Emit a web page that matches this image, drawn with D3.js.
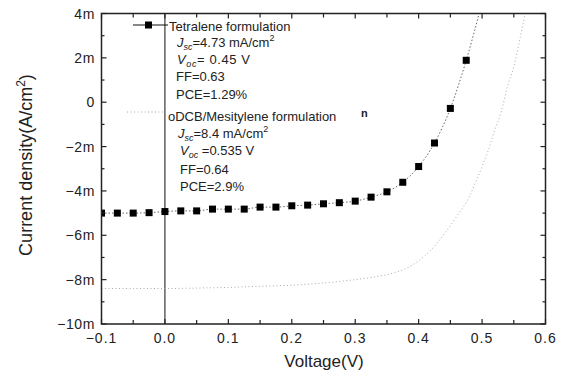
<!DOCTYPE html>
<html><head><meta charset="utf-8">
<script src="https://cdn.jsdelivr.net/npm/d3@7"></script>
<style>
body{margin:0;background:#fff;}
svg text{font-family:"Liberation Sans",Arial,sans-serif;}
</style></head>
<body><svg id="c" width="581" height="378"></svg>
<script>
// Tetralene formulation (V, mA/cm^2)
const tetraV = [-0.1,-0.075,-0.05,-0.025,0,0.025,0.05,0.075,0.1,0.125,0.15,0.175,0.2,0.225,0.25,0.275,0.3,0.325,0.35,0.375,0.4,0.425,0.45,0.475,0.5];
const tetraJ = [-5.0,-5.0,-5.0,-4.98,-4.93,-4.9,-4.9,-4.82,-4.82,-4.82,-4.73,-4.73,-4.67,-4.64,-4.58,-4.53,-4.46,-4.28,-4.04,-3.61,-2.9,-1.84,-0.28,1.89,4.5];
// oDCB/Mesitylene formulation (V, mA/cm^2)
const odcbV = [-0.1,-0.05,0,0.05,0.1,0.15,0.2,0.25,0.3,0.33,0.36,0.38,0.4,0.42,0.44,0.46,0.48,0.49,0.5,0.51,0.52,0.53,0.54,0.55,0.56,0.57];
const odcbJ = [-8.4,-8.4,-8.4,-8.38,-8.35,-8.3,-8.25,-8.15,-8.0,-7.88,-7.7,-7.5,-7.15,-6.65,-5.95,-5.15,-4.25,-3.6,-2.9,-2.15,-1.25,-0.45,0.7,1.6,2.9,4.3];
const xTicks = [-0.1,0.0,0.1,0.2,0.3,0.4,0.5,0.6];
const xTickLabels = ["\u22120.1","0.0","0.1","0.2","0.3","0.4","0.5","0.6"];
const yTicks = [4,2,0,-2,-4,-6,-8,-10];
const yTickLabels = ["4m","2m","0","\u22122m","\u22124m","\u22126m","\u22128m","\u221210m"];

const svg = d3.select("#c");
const L=101.5, R=545.5, T=13.5, B=324;
const x = d3.scaleLinear().domain([-0.1,0.6]).range([L,R]);
const y = d3.scaleLinear().domain([-10,4]).range([B,T]);

svg.append("defs").append("clipPath").attr("id","clip")
  .append("rect").attr("x",L).attr("y",T).attr("width",R-L).attr("height",B-T);

const plot = svg.append("g").attr("clip-path","url(#clip)");

// zero-voltage vertical line
plot.append("line").attr("x1",x(0)).attr("x2",x(0)).attr("y1",T).attr("y2",B)
  .attr("stroke","#111").attr("stroke-width",1);

const line = d3.line().curve(d3.curveMonotoneX).x(d=>x(d[0])).y(d=>y(d[1]));
const odcb = odcbV.map((v,i)=>[v,odcbJ[i]]);
const tetra = tetraV.map((v,i)=>[v,tetraJ[i]]);

plot.append("path").attr("d",line(odcb)).attr("fill","none")
  .attr("stroke","#aaa").attr("stroke-width",1).attr("stroke-dasharray","1,2.5");
plot.append("path").attr("d",line(tetra)).attr("fill","none")
  .attr("stroke","#555").attr("stroke-width",0.9).attr("stroke-dasharray","1.5,2");
plot.selectAll("rect.m").data(tetra).enter().append("rect").attr("class","m")
  .attr("x",d=>x(d[0])-3.5).attr("y",d=>y(d[1])-3.5).attr("width",7).attr("height",7)
  .attr("fill","#000");

// axes
const ax = svg.append("g");
ax.append("rect").attr("x",L).attr("y",T).attr("width",R-L).attr("height",B-T)
  .attr("fill","none").attr("stroke","#222").attr("stroke-width",1.5);

const xMinor = d3.range(-0.1,0.6001,0.05);
xMinor.forEach(v=>{
  const major = Math.abs(Math.round(v*10)-v*10)<1e-6;
  const len = major?5:4;
  ax.append("line").attr("x1",x(v)).attr("x2",x(v)).attr("y1",B).attr("y2",B-len).attr("stroke","#222").attr("stroke-width",1.2);
  ax.append("line").attr("x1",x(v)).attr("x2",x(v)).attr("y1",T).attr("y2",T+len).attr("stroke","#222").attr("stroke-width",1.2);
});
d3.range(-10,4.001,1).forEach(v=>{
  const major = v%2===0;
  const len = major?5:3;
  ax.append("line").attr("x1",L).attr("x2",L+len).attr("y1",y(v)).attr("y2",y(v)).attr("stroke","#222").attr("stroke-width",1.2);
  ax.append("line").attr("x1",R).attr("x2",R-len).attr("y1",y(v)).attr("y2",y(v)).attr("stroke","#222").attr("stroke-width",1.2);
});

svg.append("g").selectAll("text").data(xTicks).enter().append("text")
  .attr("x",d=>x(d)).attr("y",343).attr("text-anchor","middle")
  .attr("font-size",14).attr("letter-spacing",1).attr("fill","#222")
  .text((d,i)=>xTickLabels[i]);
svg.append("g").selectAll("text").data(yTicks).enter().append("text")
  .attr("x",95).attr("y",d=>y(d)+5).attr("text-anchor","end")
  .attr("font-size",14).attr("letter-spacing",0.6).attr("fill","#222")
  .text((d,i)=>yTickLabels[i]);

svg.append("text").attr("x",324).attr("y",367).attr("text-anchor","middle")
  .attr("font-size",17).attr("fill","#222").text("Voltage(V)");
const yt = svg.append("text").attr("transform","translate(32,165) rotate(-90)")
  .attr("text-anchor","middle").attr("font-size",18).attr("fill","#222");
yt.append("tspan").text("Current density(A/cm");
yt.append("tspan").attr("dy",-7).attr("font-size",12).text("2");
yt.append("tspan").attr("dy",7).text(")");

// legend
const lg = svg.append("g").attr("fill","#222").attr("font-size",13);
lg.append("line").attr("x1",133).attr("x2",168).attr("y1",25).attr("y2",25).attr("stroke","#111").attr("stroke-width",1.2);
lg.append("rect").attr("x",145).attr("y",21.5).attr("width",7).attr("height",7).attr("fill","#000");
lg.append("line").attr("x1",127).attr("x2",164).attr("y1",112).attr("y2",112).attr("stroke","#aaa").attr("stroke-width",1).attr("stroke-dasharray","1,2.5");

function txt(xp,yp,s){ return lg.append("text").attr("x",xp).attr("y",yp).text(s); }
function sub(xp,yp,main,s,rest){
  const t = lg.append("text").attr("x",xp).attr("y",yp);
  t.append("tspan").attr("font-style","italic").text(main);
  t.append("tspan").attr("font-style","italic").attr("font-size",9).attr("dy",3).text(s);
  t.append("tspan").attr("dy",-3).text(rest);
  return t;
}
function supEnd(t,s){ t.append("tspan").attr("dy",-6).attr("font-size",9).text(s); }

txt(169,31,"Tetralene formulation");
supEnd(sub(177,47,"J","sc","=4.73 mA/cm"),"2");
sub(177,63.5,"V","oc","= 0.45 V").attr("letter-spacing",0.6);
txt(176,81,"FF=0.63");
txt(176,98.5,"PCE=1.29%");
txt(168,121,"oDCB/Mesitylene formulation");
supEnd(sub(178,137.5,"J","sc","=8.4 mA/cm"),"2");
sub(180,155,"V","oc"," =0.535 V");
txt(180,173.5,"FF=0.64");
txt(180,191,"PCE=2.9%");
lg.append("text").attr("x",361).attr("y",117).attr("font-size",11).attr("font-weight","bold").text("n");
</script></body></html>
